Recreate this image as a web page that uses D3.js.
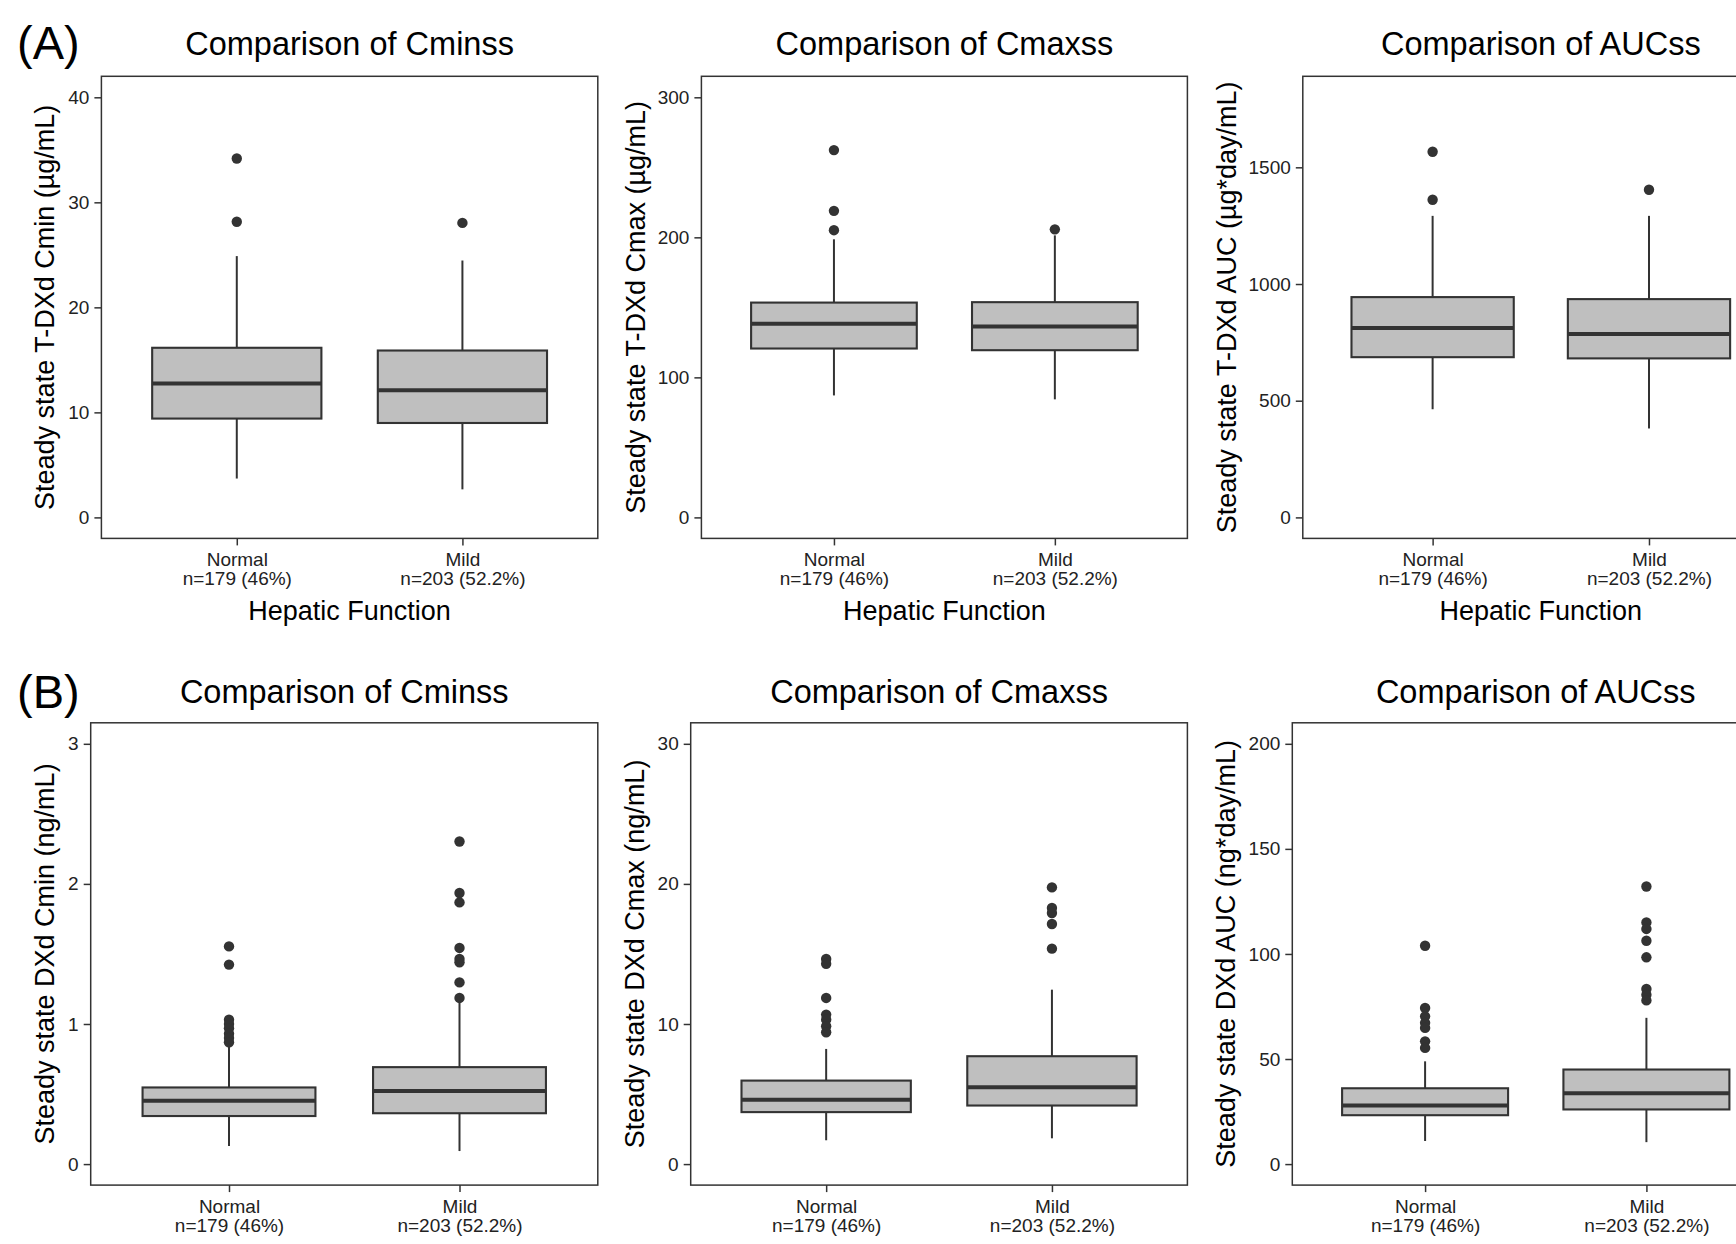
<!DOCTYPE html>
<html>
<head>
<meta charset="utf-8">
<script src="https://cdn.jsdelivr.net/npm/d3@7"></script>
<style>
  body { margin: 0; background: #ffffff; }
  svg { display: block; }
  text { font-family: "Liberation Sans", Arial, sans-serif; }
</style>
</head>
<body>
<svg id="chart" width="1736" height="1244"></svg>
<script>
// ---------------- DATA ----------------
const categories = ["Normal", "Mild"];
const categoryCounts = ["n=179 (46%)", "n=203 (52.2%)"];
const rowLabels = ["(A)", "(B)"];
const panelTitles = ["Comparison of Cminss", "Comparison of Cmaxss", "Comparison of AUCss"];
const xAxisTitle = "Hepatic Function";
const yTitlesA = ["Steady state T-DXd Cmin (µg/mL)", "Steady state T-DXd Cmax (µg/mL)", "Steady state T-DXd AUC (µg*day/mL)"];
const yTitlesB = ["Steady state DXd Cmin (ng/mL)", "Steady state DXd Cmax (ng/mL)", "Steady state DXd AUC (ng*day/mL)"];

// y limits (before 5% expansion) and tick labels
const yLimitsA = [[0, 40], [0, 300], [0, 1800]];
const yLimitsB = [[0, 3], [0, 30], [0, 200]];
const yTicksA = [[0, 10, 20, 30, 40], [0, 100, 200, 300], [0, 500, 1000, 1500]];
const yTicksB = [[0, 1, 2, 3], [0, 10, 20, 30], [0, 50, 100, 150, 200]];

// Box statistics: [lower whisker, Q1, median, Q3, upper whisker]
// (A) T-DXd
const tdxdCminNormal = [3.70, 9.41, 12.76, 16.15, 24.88];
const tdxdCminMild   = [2.67, 8.99, 12.11, 15.89, 24.46];
const tdxdCminNormalOut = [34.17, 28.15];
const tdxdCminMildOut   = [28.04];

const tdxdCmaxNormal = [87.1, 120.6, 138.3, 153.4, 198.6];
const tdxdCmaxMild   = [84.3, 119.4, 136.3, 153.7, 201.4];
const tdxdCmaxNormalOut = [262.3, 218.9, 205.1];
const tdxdCmaxMildOut   = [205.7];

const tdxdAucNormal = [463.4, 686.5, 811.7, 943.9, 1292];
const tdxdAucMild   = [381, 681.3, 786, 935.3, 1292];
const tdxdAucNormalOut = [1566.8, 1361];
const tdxdAucMildOut   = [1403.8];

// (B) DXd
const dxdCminNormal = [0.129, 0.343, 0.453, 0.547, 0.84];
const dxdCminMild   = [0.093, 0.363, 0.522, 0.692, 1.16];
const dxdCminNormalOut = [1.554, 1.424, 1.03, 1.0, 0.97, 0.93, 0.90, 0.87];
const dxdCminMildOut   = [2.303, 1.935, 1.868, 1.543, 1.464, 1.44, 1.297, 1.186];

const dxdCmaxNormal = [1.70, 3.71, 4.59, 5.96, 8.22];
const dxdCmaxMild   = [1.84, 4.18, 5.49, 7.70, 12.45];
const dxdCmaxNormalOut = [14.64, 14.3, 11.86, 10.67, 10.31, 9.84, 9.41];
const dxdCmaxMildOut   = [19.75, 18.28, 17.92, 17.14, 15.38];

const dxdAucNormal = [10.99, 23.26, 27.84, 36.08, 48.9];
const dxdAucMild   = [10.44, 26.0, 33.7, 45.0, 69.6];
const dxdAucNormalOut = [103.9, 74.3, 70.3, 67.2, 64.8, 58.4, 55.3];
const dxdAucMildOut   = [132.1, 115.0, 111.9, 106.3, 98.4, 83.3, 80.6, 77.9];

// ---------------- BUILD PANELS ----------------
const rowsData = [
  {
    label: rowLabels[0], yTitles: yTitlesA, limits: yLimitsA, ticks: yTicksA,
    stats: [[tdxdCminNormal, tdxdCminMild], [tdxdCmaxNormal, tdxdCmaxMild], [tdxdAucNormal, tdxdAucMild]],
    outliers: [[tdxdCminNormalOut, tdxdCminMildOut], [tdxdCmaxNormalOut, tdxdCmaxMildOut], [tdxdAucNormalOut, tdxdAucMildOut]]
  },
  {
    label: rowLabels[1], yTitles: yTitlesB, limits: yLimitsB, ticks: yTicksB,
    stats: [[dxdCminNormal, dxdCminMild], [dxdCmaxNormal, dxdCmaxMild], [dxdAucNormal, dxdAucMild]],
    outliers: [[dxdCminNormalOut, dxdCminMildOut], [dxdCmaxNormalOut, dxdCmaxMildOut], [dxdAucNormalOut, dxdAucMildOut]]
  }
];

// ---------------- LAYOUT ----------------
const layout = [
  { top: 76.3, bottom: 538.4, labelX: 17, labelY: 59, titleY: 55,
    left: [101.4, 701.4, 1302.8], right: [597.8, 1187.4, 1778.8],
    yTitleX: [54, 644.5, 1235.5], showXTitle: true },
  { top: 722.8, bottom: 1185.1, labelX: 17, labelY: 708, titleY: 703,
    left: [90.7, 690.7, 1292.3], right: [597.8, 1187.4, 1779.2],
    yTitleX: [54, 644.4, 1235.3], showXTitle: false }
];

const INK = "#333333";
const TICK_TEXT = "#222222";
const BOX_FILL = "#bfbfbf";
const FONT_TITLE = 32.5, FONT_AXIS_TITLE = 27, FONT_TICK = 19, FONT_ROW = 47;

const svg = d3.select("#chart");
svg.append("rect").attr("width", 1736).attr("height", 1244).attr("fill", "#ffffff");

rowsData.forEach((row, ri) => {
  const L = layout[ri];

  svg.append("text")
    .attr("x", L.labelX).attr("y", L.labelY)
    .attr("font-size", FONT_ROW).attr("fill", "#000")
    .text(row.label);

  for (let pi = 0; pi < 3; pi++) {
    const left = L.left[pi], right = L.right[pi];
    const top = L.top, bottom = L.bottom;
    const [lo, hi] = row.limits[pi];
    const pad = (hi - lo) * 0.05;

    const x = d3.scalePoint().domain(categories).range([left, right]).padding(0.6);
    const y = d3.scaleLinear().domain([lo - pad, hi + pad]).range([bottom, top]);
    const boxW = x.step() * 0.75;

    const g = svg.append("g");

    // Title
    g.append("text")
      .attr("x", (left + right) / 2).attr("y", L.titleY)
      .attr("text-anchor", "middle")
      .attr("font-size", FONT_TITLE).attr("fill", "#000")
      .text(panelTitles[pi]);

    // Y axis
    const yAxis = g.append("g")
      .attr("transform", `translate(${left},0)`)
      .call(d3.axisLeft(y).tickValues(row.ticks[pi]).tickSize(7).tickPadding(5).tickFormat(d3.format("d")));
    yAxis.select(".domain").remove();
    yAxis.selectAll(".tick line").attr("stroke", INK).attr("stroke-width", 1.5);
    yAxis.selectAll(".tick text")
      .attr("font-size", FONT_TICK).attr("fill", TICK_TEXT)
      .attr("font-family", "'Liberation Sans', Arial, sans-serif");

    // X axis
    const xAxis = g.append("g")
      .attr("transform", `translate(0,${bottom})`)
      .call(d3.axisBottom(x).tickSize(7).tickSizeOuter(0));
    xAxis.select(".domain").remove();
    xAxis.selectAll(".tick line").attr("stroke", INK).attr("stroke-width", 1.5);
    xAxis.selectAll(".tick text").remove();
    xAxis.selectAll(".tick").each(function (d, i) {
      const t = d3.select(this).append("text")
        .attr("text-anchor", "middle")
        .attr("font-size", FONT_TICK).attr("fill", TICK_TEXT)
        .attr("font-family", "'Liberation Sans', Arial, sans-serif");
      t.append("tspan").attr("x", 0).attr("y", 28).text(d);
      t.append("tspan").attr("x", 0).attr("y", 47).text(categoryCounts[i]);
    });

    // X axis title
    if (L.showXTitle) {
      g.append("text")
        .attr("x", (left + right) / 2).attr("y", bottom + 82)
        .attr("text-anchor", "middle")
        .attr("font-size", FONT_AXIS_TITLE).attr("fill", "#000")
        .text(xAxisTitle);
    }

    // Y axis title
    g.append("text")
      .attr("transform", `translate(${L.yTitleX[pi]},${(top + bottom) / 2}) rotate(-90)`)
      .attr("text-anchor", "middle")
      .attr("font-size", FONT_AXIS_TITLE).attr("fill", "#000")
      .text(row.yTitles[pi]);

    // Boxes
    categories.forEach((cat, ci) => {
      const s = row.stats[pi][ci];
      const cx = x(cat);
      const bg = g.append("g");
      // whiskers
      bg.append("line").attr("x1", cx).attr("x2", cx).attr("y1", y(s[0])).attr("y2", y(s[1]))
        .attr("stroke", INK).attr("stroke-width", 2);
      bg.append("line").attr("x1", cx).attr("x2", cx).attr("y1", y(s[3])).attr("y2", y(s[4]))
        .attr("stroke", INK).attr("stroke-width", 2);
      // box
      bg.append("rect")
        .attr("x", cx - boxW / 2).attr("width", boxW)
        .attr("y", y(s[3])).attr("height", y(s[1]) - y(s[3]))
        .attr("fill", BOX_FILL).attr("stroke", INK).attr("stroke-width", 2.1);
      // median
      bg.append("line")
        .attr("x1", cx - boxW / 2).attr("x2", cx + boxW / 2)
        .attr("y1", y(s[2])).attr("y2", y(s[2]))
        .attr("stroke", INK).attr("stroke-width", 4);
      // outliers
      bg.selectAll("circle.out").data(row.outliers[pi][ci]).enter()
        .append("circle").attr("class", "out")
        .attr("cx", cx).attr("cy", d => y(d)).attr("r", 5.2)
        .attr("fill", INK);
    });

    // Panel border
    g.append("rect")
      .attr("x", left).attr("y", top)
      .attr("width", right - left).attr("height", bottom - top)
      .attr("fill", "none").attr("stroke", INK).attr("stroke-width", 1.5);
  }
});
</script>
</body>
</html>
